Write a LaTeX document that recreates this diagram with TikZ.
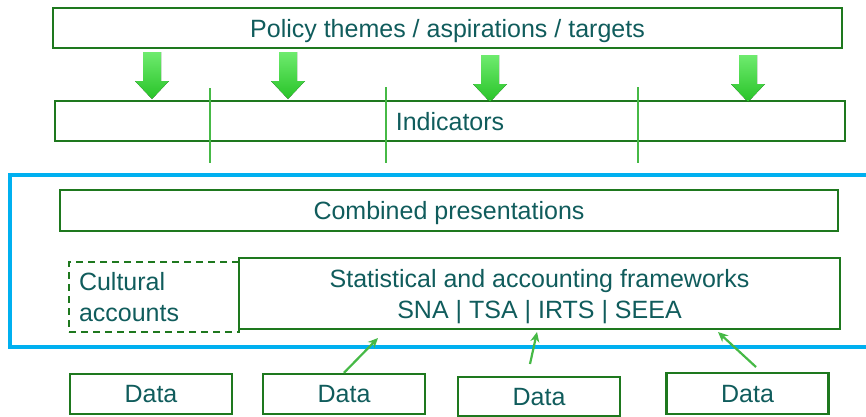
\documentclass[tikz,border=0pt]{standalone}
\usepackage{fontspec}
\setmainfont{Liberation Sans}
\usetikzlibrary{arrows.meta}
\definecolor{boxgreen}{RGB}{30,120,30}
\definecolor{txtteal}{RGB}{16,92,92}
\definecolor{frameblue}{RGB}{0,176,240}
\definecolor{linegreen}{RGB}{70,185,70}
\definecolor{arrowlight}{RGB}{110,235,110}
\definecolor{arrowdark}{RGB}{40,195,40}
\tikzset{
  boxbase/.style={draw=boxgreen, line width=2.5pt, text=txtteal, align=center,
                inner sep=0pt, font=\fontsize{25}{31}\selectfont},
  frame/.style={boxbase, text depth=0pt},
  dashframe/.style={boxbase, dashed, dash pattern=on 7pt off 5pt},
  feed/.style={draw=linegreen, line width=2.2pt, -{Stealth[length=10pt,width=9pt]}},
  divider/.style={draw=linegreen, line width=2pt}
}

\begin{document}
\begin{tikzpicture}[x=1pt,y=-1pt]
    % Define the sizes of the boxes
    \def\boxheight{40pt}
    \def\databoxwidth{162pt}

    \useasboundingbox (0,0) rectangle (866,416);

    % Draw the policy and indicator rows
    \node[frame, minimum width=789pt, minimum height=\boxheight] (policy) at (447.5,28) {Policy themes / aspirations / targets};
    \node[frame, minimum width=790pt, minimum height=\boxheight] (indic) at (450,121) {Indicators};

    % Block arrows from policy down to indicators
    \foreach \ax/\ay in {152/0,288/0,490/3,748/3} {
      \fill[top color=arrowlight, bottom color=arrowdark]
        (\ax-9,52+\ay) -- (\ax+9,52+\ay) -- (\ax+9,81+\ay) -- (\ax+17,81+\ay)
        -- (\ax,99+\ay) -- (\ax-17,81+\ay) -- (\ax-9,81+\ay) -- cycle;
    }

    % Vertical dividers through the indicators
    \foreach \dx/\dtop in {210/88,386/87,638/87} {
      \draw[divider] (\dx,\dtop) -- (\dx,163);
    }

    % Blue frame round the accounting part
    \draw[frameblue, line width=3.5pt] (880,175) -- (10,175) -- (10,347) -- (880,347);

    \node[frame, minimum width=778pt, minimum height=41pt] (combined) at (449,210.5) {Combined presentations};
    \node[dashframe, minimum width=170pt, minimum height=70pt, text width=150pt, align=left] (cultural) at (154,297) {Cultural\\accounts};
    \node[frame, minimum width=601pt, minimum height=71pt] (frameworks) at (539.5,293.5) {Statistical and accounting frameworks\\SNA | TSA | IRTS | SEEA};

    % Draw the data boxes
    \node[frame, minimum width=\databoxwidth, minimum height=\boxheight] (data1) at (151,394) {Data};
    \node[frame, minimum width=\databoxwidth, minimum height=\boxheight] (data2) at (344,394) {Data};
    \node[frame, minimum width=\databoxwidth, minimum height=39pt] (data3) at (539,396.5) {Data};
    \node[frame, minimum width=\databoxwidth, minimum height=41pt] (data4) at (747.5,393.5) {Data};

    % Arrows from the data towards the frameworks
    \coordinate (feed1) at (378,338);
    \coordinate (feed2s) at (530,364);
    \coordinate (feed2) at (537,332);
    \coordinate (feed3s) at (756,367);
    \coordinate (feed3) at (718,332);
    \draw[feed] (data2.north) -- (feed1);
    \draw[feed] (feed2s) -- (feed2);
    \draw[feed] (feed3s) -- (feed3);
\end{tikzpicture}
\end{document}
